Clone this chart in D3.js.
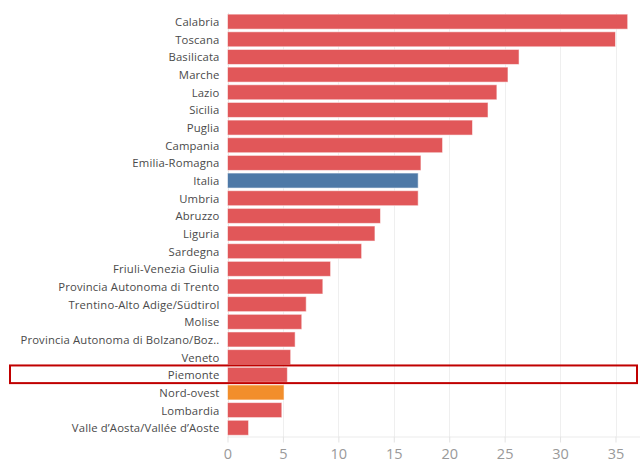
<!DOCTYPE html>
<html><head><meta charset="utf-8">
<script src="https://cdn.jsdelivr.net/npm/d3@7"></script>
<style>
html,body{margin:0;padding:0;background:#fff;}
svg{display:block;}
</style>
</head><body>
<svg id="chart" width="640" height="463"></svg>
<script>
const regions = ["Calabria","Toscana","Basilicata","Marche","Lazio","Sicilia","Puglia","Campania","Emilia-Romagna","Italia","Umbria","Abruzzo","Liguria","Sardegna","Friuli-Venezia Giulia","Provincia Autonoma di Trento","Trentino-Alto Adige/Südtirol","Molise","Provincia Autonoma di Bolzano/Boz..","Veneto","Piemonte","Nord-ovest","Lombardia","Valle d\u2019Aosta/Vallée d\u2019Aoste"];
const values = [36.1,35.0,26.3,25.3,24.3,23.5,22.1,19.4,17.45,17.2,17.2,13.8,13.3,12.1,9.3,8.6,7.1,6.7,6.1,5.7,5.4,5.1,4.9,1.9];
const kinds = ["r","r","r","r","r","r","r","r","r","italia","r","r","r","r","r","r","r","r","r","r","r","macro","r","r"];
const tickValues = [0,5,10,15,20,25,30,35];
const highlighted = "Piemonte";

const colorOf = {r:"#e15759", italia:"#4e79a7", macro:"#f28e2b"};
const data = regions.map((n,i)=>({name:n, value:values[i], kind:kinds[i]}));

const svg = d3.select("#chart");
const mLeft = 227.5, mRight = 640, mTop = 12.9, mBottom = 436.5;
const x = d3.scaleLinear().domain([0,35]).range([mLeft, 615.5]);
const y = d3.scaleBand().domain(regions).range([mTop, mBottom]).paddingInner(0.15).paddingOuter(0.07);

// gridlines
svg.append("g").selectAll("line").data(tickValues).join("line")
  .attr("x1", d=>Math.round(x(d))+0.5).attr("x2", d=>Math.round(x(d))+0.5)
  .attr("y1", mTop).attr("y2", mBottom)
  .attr("stroke", d=> d===0 ? "#e3e3e3" : "#efefef").attr("stroke-width",1);

// bars
svg.append("g").selectAll("rect").data(data).join("rect")
  .attr("x", x(0)).attr("y", d=>y(d.name))
  .attr("width", d=>x(d.value)-x(0)).attr("height", y.bandwidth())
  .attr("fill", d=>colorOf[d.kind])
  .attr("stroke", "rgba(255,255,255,0.55)").attr("stroke-width",1);

// labels
svg.append("g").selectAll("text").data(data).join("text")
  .attr("x", 219.5).attr("y", d=>y(d.name)+y.bandwidth()/2)
  .attr("text-anchor","end").attr("dominant-baseline","central")
  .attr("font-family","'Open Sans', 'Noto Sans', sans-serif").attr("font-size","11.3px")
  .attr("letter-spacing","0.15px")
  .attr("fill","#4a4a4a").text(d=>d.name);

// x axis
const axis = d3.axisBottom(x).tickValues(tickValues).tickSize(6).tickPadding(6);
const ax = svg.append("g").attr("transform",`translate(0,${mBottom})`).call(axis);
ax.select(".domain").attr("d", `M${mLeft},0.5H${mRight}`).attr("stroke","#ebebeb");
ax.selectAll(".tick line").attr("stroke","#e3e3e3");
ax.selectAll(".tick text").attr("fill","#999").attr("font-size","14.5px")
  .attr("font-family","'Open Sans', 'Noto Sans', sans-serif");

// highlight box
const hy = y(highlighted);
svg.append("rect")
  .attr("x", 10).attr("y", hy - (y.step()-y.bandwidth())/2 - 0.5)
  .attr("width", 627).attr("height", y.step())
  .attr("fill","none").attr("stroke","#c00000").attr("stroke-width",2);
</script>
</body></html>
